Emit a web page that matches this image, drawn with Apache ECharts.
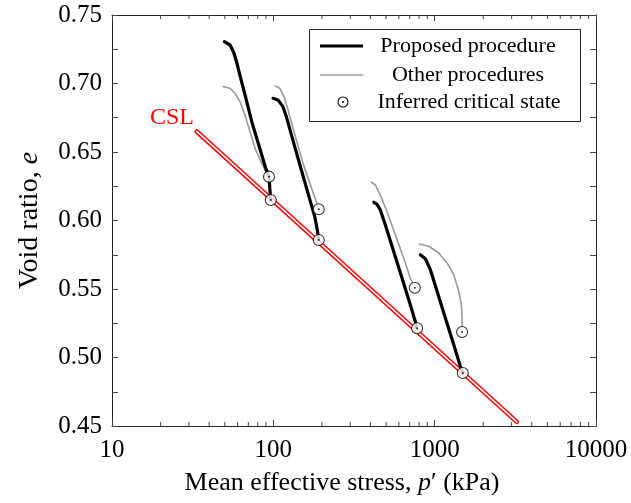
<!DOCTYPE html>
<html>
<head>
<meta charset="utf-8">
<script src="https://cdn.jsdelivr.net/npm/echarts@6/dist/echarts.min.js"></script>
<style>
html,body{margin:0;padding:0;background:#fff;}
#chart{width:631px;height:503px;}
</style>
</head>
<body>
<div id="chart"></div>
<script>
// ---- data (p' in kPa, void ratio e) ----
const proposed1 = [[49.7,0.7305],[53.9,0.7281],[56.7,0.7230],[59.2,0.7157],[62.2,0.7055],[66.8,0.6916],[73.5,0.6721],[78.9,0.6600],[84.8,0.6478],[89.7,0.6381],[94.0,0.6320],[95.4,0.6210],[96.4,0.6150]];
const proposed2 = [[99.6,0.6892],[106.9,0.6880],[114.8,0.6831],[120.4,0.6758],[135.7,0.6539],[149.2,0.6369],[164.1,0.6198],[180.6,0.6028],[187.4,0.5930],[191.2,0.5858]];
const proposed3 = [[419.3,0.6133],[439.5,0.6118],[460.7,0.6077],[494.8,0.5967],[557.8,0.5772],[628,0.5578],[707,0.5383],[759,0.5261],[778,0.5213]];
const proposed4 = [[815,0.5750],[875.8,0.5721],[940.5,0.5641],[1035,0.5483],[1165,0.5288],[1313,0.5093],[1443,0.4936],[1494,0.4887]];

const other1 = [[49.0,0.6977],[53.9,0.6965],[57.9,0.6928],[62.2,0.6867],[66.8,0.6770],[71.7,0.6648],[77.0,0.6527],[84.8,0.6417],[91.0,0.6344],[94.0,0.6320]];
const other2 = [[102.9,0.6982],[109.6,0.6965],[116.5,0.6904],[123.4,0.6807],[138.8,0.6588],[152.8,0.6417],[168.2,0.6271],[183.2,0.6150],[191.2,0.6082]];
const other3 = [[405.2,0.6279],[429,0.6259],[460.7,0.6186],[507,0.6064],[570.7,0.5894],[643.3,0.5724],[707,0.5578],[752.5,0.5509]];
const other4 = [[803.7,0.5828],[919,0.5812],[1060,0.5763],[1194,0.5690],[1313,0.5604],[1411,0.5483],[1464,0.5385],[1479,0.5288],[1479,0.5186]];

const criticalStates = [[94.0,0.6320],[96.4,0.6150],[191.2,0.6082],[191.2,0.5858],[752.5,0.5509],[778,0.5213],[1479,0.5186],[1494,0.4887]];
const csl = [[33.5,0.665],[3230,0.453]];

const xTickLabels = [10,100,1000,10000];
const yTickLabels = [0.45,0.50,0.55,0.60,0.65,0.70,0.75];
const xMinorTicks = [20,30,40,50,60,70,80,90,200,300,400,500,600,700,800,900,2000,3000,4000,5000,6000,7000,8000,9000];

const FONT = '"Liberation Serif", "DejaVu Serif", serif';
const TICK = '#444';

function lineSeries(data, color, width, z) {
  return {type:'line', data:data, showSymbol:false, symbol:'none', smooth:false,
    lineStyle:{color:color, width:width, join:'round', cap:'round'}, z:z, silent:true, animation:false};
}

const chart = echarts.init(document.getElementById('chart'), null, {renderer:'canvas'});
const xAxisBase = {type:'log', logBase:10, min:10, max:10000,
  axisLine:{show:true, lineStyle:{color:'#222', width:1}},
  axisTick:{show:true, inside:true, length:6, lineStyle:{color:TICK, width:1}},
  splitLine:{show:false}, minorTick:{show:false}};
const yAxisBase = {type:'value', min:0.45, max:0.75, interval:0.025,
  axisLine:{show:true, lineStyle:{color:'#222', width:1}},
  axisTick:{show:true, inside:true, length:6, lineStyle:{color:TICK, width:1}},
  splitLine:{show:false}};

const option = {
  animation:false,
  backgroundColor:'#fff',
  grid:{left:112, top:15, right:35, bottom:77, containLabel:false},
  xAxis:[
    Object.assign({}, xAxisBase, {position:'bottom',
      name:'Mean effective stress, {i|p}′ (kPa)', nameLocation:'middle', nameGap:44,
      nameTextStyle:{fontFamily:FONT, fontSize:26, color:'#000', padding:[0,24,0,0],
        rich:{i:{fontStyle:'italic', fontFamily:FONT, fontSize:26}}},
      axisLabel:{show:true, margin:12, fontFamily:FONT, fontSize:25, color:'#000',
        formatter:function(v){ const r = Math.round(v); return xTickLabels.indexOf(r) >= 0 ? String(r) : ''; }}}),
    Object.assign({}, xAxisBase, {position:'top', axisLabel:{show:false}})
  ],
  yAxis:[
    Object.assign({}, yAxisBase, {position:'left',
      name:'Void ratio, {i|e}', nameLocation:'middle', nameGap:68, nameRotate:90,
      nameTextStyle:{fontFamily:FONT, fontSize:28, color:'#000', rich:{i:{fontStyle:'italic', fontFamily:FONT, fontSize:28}}},
      axisLabel:{show:true, margin:10, fontFamily:FONT, fontSize:25, color:'#000',
        formatter:function(v){
          const k = Math.round(v*1000)/1000;
          for (const t of yTickLabels) { if (Math.abs(t-k) < 1e-6) return t.toFixed(2); }
          return '';
        }}}),
    Object.assign({}, yAxisBase, {position:'right', axisLabel:{show:false}})
  ],
  series:[
    {type:'custom', data:xMinorTicks.map(function(v){return [v, 0.45];}), silent:true, z:1,
      renderItem:function(params, api){
        const v = api.value(0);
        const b = api.coord([v, 0.45]);
        const t = api.coord([v, 0.75]);
        return {type:'group', children:[
          {type:'line', shape:{x1:b[0], y1:b[1], x2:b[0], y2:b[1]-4}, style:{stroke:TICK, lineWidth:1}},
          {type:'line', shape:{x1:t[0], y1:t[1], x2:t[0], y2:t[1]+4}, style:{stroke:TICK, lineWidth:1}}
        ]};
      }},
    lineSeries(csl, '#ff0000', 4.6, 2),
    lineSeries(csl, '#ffffff', 1.6, 3),
    lineSeries(other1, '#9a9a9a', 1.6, 4),
    lineSeries(other2, '#9a9a9a', 1.6, 4),
    lineSeries(other3, '#9a9a9a', 1.6, 4),
    lineSeries(other4, '#9a9a9a', 1.6, 4),
    lineSeries(proposed1, '#000000', 3.2, 5),
    lineSeries(proposed2, '#000000', 3.2, 5),
    lineSeries(proposed3, '#000000', 3.2, 5),
    lineSeries(proposed4, '#000000', 3.2, 5),
    {type:'scatter', data:criticalStates, symbol:'circle', symbolSize:11, z:6, silent:true,
      itemStyle:{color:'#fff', borderColor:'#000', borderWidth:1.1}},
    {type:'scatter', data:criticalStates, symbol:'circle', symbolSize:2, z:7, silent:true,
      itemStyle:{color:'#000'}}
  ],
  graphic:[
    {type:'text', x:172, y:118, z:50, style:{text:'CSL', align:'center', verticalAlign:'middle', fill:'#ff0000', font:'24px ' + FONT}},
    {type:'rect', z:100, shape:{x:309.5, y:29.5, width:271, height:92}, style:{fill:'#fff', stroke:'#222', lineWidth:1}},
    {type:'line', z:101, shape:{x1:320, y1:46, x2:363, y2:46}, style:{stroke:'#000', lineWidth:3.2}},
    {type:'line', z:101, shape:{x1:320, y1:75, x2:363, y2:75}, style:{stroke:'#9a9a9a', lineWidth:1.6}},
    {type:'circle', z:101, shape:{cx:343, cy:102, r:5}, style:{fill:'#fff', stroke:'#000', lineWidth:1.1}},
    {type:'circle', z:102, shape:{cx:343, cy:102, r:1}, style:{fill:'#000'}},
    {type:'text', z:101, x:468, y:46, style:{text:'Proposed procedure', align:'center', verticalAlign:'middle', fill:'#000', font:'22px ' + FONT}},
    {type:'text', z:101, x:468, y:75, style:{text:'Other procedures', align:'center', verticalAlign:'middle', fill:'#000', font:'22px ' + FONT}},
    {type:'text', z:101, x:469, y:102, style:{text:'Inferred critical state', align:'center', verticalAlign:'middle', fill:'#000', font:'22px ' + FONT}}
  ]
};
chart.setOption(option);
</script>
</body>
</html>
